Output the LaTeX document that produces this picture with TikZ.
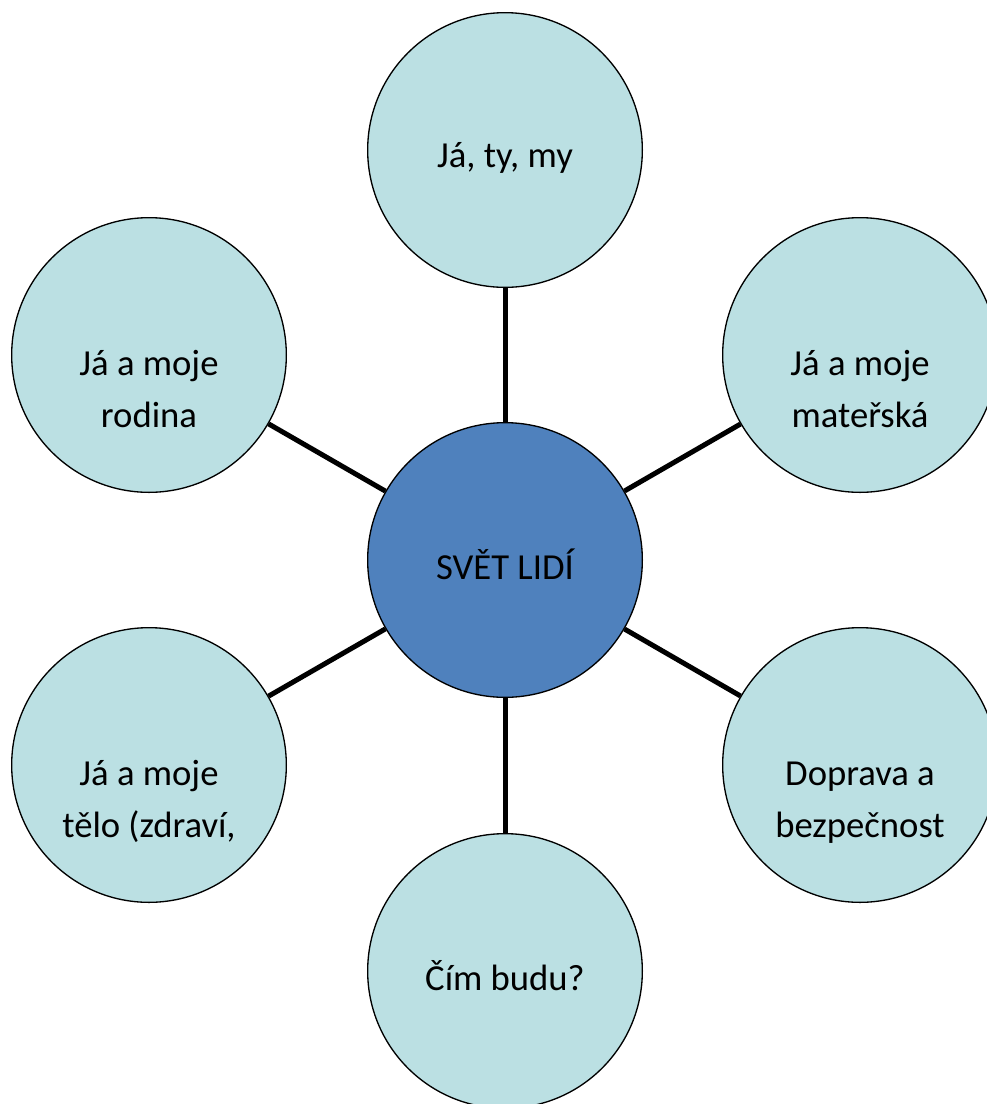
\documentclass[tikz,border=0pt]{standalone}
\usepackage{fontspec}
\setmainfont{Carlito}
\definecolor{lightc}{RGB}{187,224,227}
\definecolor{darkc}{RGB}{79,129,189}
\begin{document}
\begin{tikzpicture}[x=0.75pt,y=-0.75pt,
  bubble/.style={circle,draw=black,line width=1pt,minimum size=206pt,inner sep=0pt,fill=lightc},
  hub/.style={bubble,fill=darkc},
  label/.style={font=\fontsize{27.5}{39}\selectfont,anchor=base,inner sep=0pt},
  spoke/.style={line width=3.75pt,black}]
\useasboundingbox (0,0) rectangle (987,1104);
\clip (0,0) rectangle (987,1104);
\node[hub] (c) at (505,560) {};
\node[bubble] (t) at (505,150) {};
\node[bubble] (ul) at (149,355) {};
\node[bubble] (ur) at (860,355) {};
\node[bubble] (ll) at (149,765) {};
\node[bubble] (lr) at (860,765) {};
\node[bubble] (b) at (505,971) {};
\foreach \n in {t,ul,ur,ll,lr,b} {\draw[spoke] (c) -- (\n);}
\node[label] (tt) at (505,167) {Já, ty, my};
\node[label] (ct) at (505,579) {SVĚT LIDÍ};
\node[label] (bt) at (505,990) {Čím budu?};
\node[label] (ul1) at (149,375) {Já a moje};
\node[label] (ul2) at (149,427) {rodina};
\node[label] (ur1) at (860,375) {Já a moje};
\node[label] (ur2) at (860,427) {mateřská};
\node[label] (ll1) at (149,785) {Já a moje};
\node[label] (ll2) at (149,837) {tělo (zdraví,};
\node[label] (lr1) at (860,785) {Doprava a};
\node[label] (lr2) at (860,837) {bezpečnost};
\end{tikzpicture}
\end{document}
